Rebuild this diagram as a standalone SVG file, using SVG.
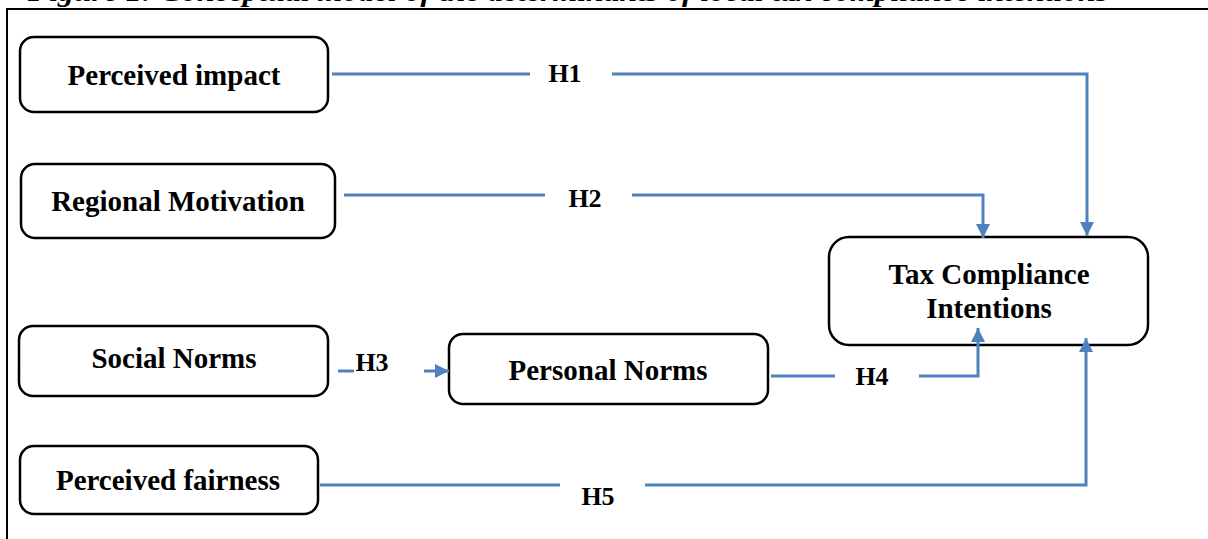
<svg xmlns="http://www.w3.org/2000/svg" width="1208" height="539" viewBox="0 0 1208 539">
<defs>
<style>
.box{fill:#fff;stroke:#000;stroke-width:2.5}
.lbl{font-family:"Liberation Serif","Times New Roman",serif;font-weight:bold;font-size:29px;fill:#000;text-anchor:middle}
.h{font-family:"Liberation Serif","Times New Roman",serif;font-weight:bold;font-size:26px;fill:#000;text-anchor:middle}
.ttl{font-family:"Liberation Serif","Times New Roman",serif;font-weight:bold;font-style:italic;font-size:28px;fill:#000}
.c{fill:none;stroke:#4F81BD;stroke-width:3}
.frame{fill:none;stroke:#000;stroke-width:2}
</style>
<marker id="arr" viewBox="0 0 14 14" refX="14" refY="7" markerWidth="14" markerHeight="14" markerUnits="userSpaceOnUse" orient="auto">
<path d="M0,0 L14,7 L0,14 Z" fill="#4F81BD"/>
</marker>
</defs>
<rect width="1208" height="539" fill="#fff"/>
<text class="ttl" x="28" y="1" textLength="1080" lengthAdjust="spacingAndGlyphs">Figure 1: Conceptual model of the determinants of local tax compliance intentions</text>
<path class="frame" d="M7,539 V9 H1208"/>

<g id="perceived-impact">
<rect class="box" x="20" y="37" width="308" height="75" rx="14"/>
<text class="lbl" x="174" y="85">Perceived impact</text>
</g>
<g id="regional-motivation">
<rect class="box" x="21" y="164" width="314" height="74" rx="14"/>
<text class="lbl" x="178" y="211">Regional Motivation</text>
</g>
<g id="social-norms">
<rect class="box" x="19" y="326" width="309" height="70" rx="14"/>
<text class="lbl" x="174" y="368">Social Norms</text>
</g>
<g id="personal-norms">
<rect class="box" x="449" y="334" width="319" height="70" rx="14"/>
<text class="lbl" x="608" y="380">Personal Norms</text>
</g>
<g id="perceived-fairness">
<rect class="box" x="20" y="446" width="298" height="68" rx="14"/>
<text class="lbl" x="168" y="490">Perceived fairness</text>
</g>
<g id="tax-compliance">
<rect class="box" x="829" y="237" width="319" height="108" rx="20"/>
<text class="lbl" x="989" y="284">Tax Compliance</text>
<text class="lbl" x="989" y="318">Intentions</text>
</g>

<g id="connectors">
<path class="c" d="M332,74 H530"/>
<path class="c" d="M612,74 H1087 V236" marker-end="url(#arr)"/>
<path class="c" d="M344,195 H545"/>
<path class="c" d="M632,195 H983 V238" marker-end="url(#arr)"/>
<path class="c" d="M338,371 H354"/>
<path class="c" d="M424,371 H449" marker-end="url(#arr)"/>
<path class="c" d="M771,376 H978 V328" marker-end="url(#arr)" stroke-dasharray="64 84 300"/>
<path class="c" d="M645,485 H1086 V338" marker-end="url(#arr)"/>
<path class="c" d="M320,485 H560"/>
<text class="h" x="565" y="82">H1</text>
<text class="h" x="585" y="207">H2</text>
<text class="h" x="372" y="371">H3</text>
<text class="h" x="872" y="385">H4</text>
<text class="h" x="598" y="505">H5</text>
</g>
</svg>
